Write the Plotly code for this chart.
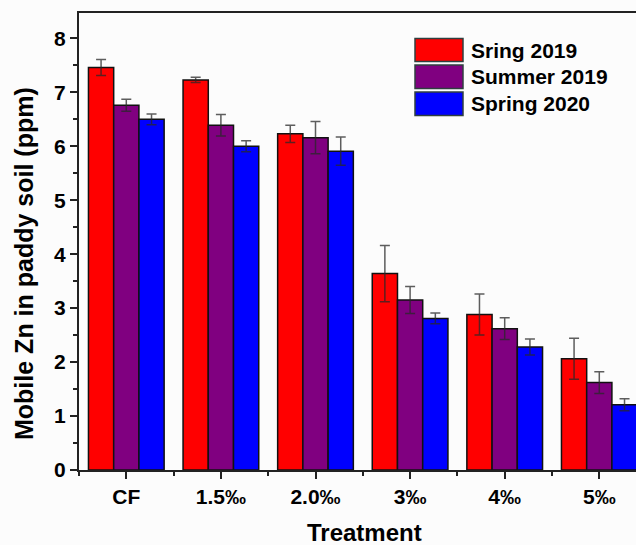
import plotly.graph_objects as go

# Treatment groups and mobile Zn readings (ppm) with standard errors
treatments = ["CF", "1.5‰", "2.0‰", "3‰", "4‰", "5‰"]
series_names = ["Sring 2019", "Summer 2019", "Spring 2020"]
sring_2019 = [7.46, 7.23, 6.23, 3.64, 2.88, 2.06]
sring_2019_err = [0.15, 0.05, 0.16, 0.52, 0.38, 0.38]
summer_2019 = [6.76, 6.39, 6.16, 3.15, 2.62, 1.62]
summer_2019_err = [0.11, 0.20, 0.30, 0.25, 0.20, 0.20]
spring_2020 = [6.50, 6.00, 5.91, 2.81, 2.28, 1.21]
spring_2020_err = [0.10, 0.10, 0.26, 0.10, 0.15, 0.11]

colors = ["#ff0000", "#800080", "#0000ff"]
values = [sring_2019, summer_2019, spring_2020]
errors = [sring_2019_err, summer_2019_err, spring_2020_err]

W, H = 636, 545
L, R, T, B = 79, 0, 13, 75
PW, PH = W - L - R, H - T - B
FONT = "Arial, Liberation Sans, sans-serif"


def px(x):
    return (x - L) / PW


def py(y):
    return (H - B - y) / PH


positions = list(range(len(treatments)))

fig = go.Figure()
for name, vals, errs, col in zip(series_names, values, errors, colors):
    fig.add_trace(go.Bar(
        x=positions, y=vals, name=name,
        marker=dict(color=col, line=dict(color="#111111", width=1.5)),
        error_y=dict(type="data", array=errs, color="rgba(40,40,40,0.75)",
                     thickness=1.5, width=5),
        showlegend=False,
    ))

# Legend drawn as framed swatches with labels
sw_x0, sw_x1 = 415, 463
rows = [(38.5, 61.5), (65, 88.5), (92, 115.5)]
for (y0, y1), name, col in zip(rows, series_names, colors):
    fig.add_shape(type="rect", xref="paper", yref="paper",
                  x0=px(sw_x0), x1=px(sw_x1), y0=py(y1), y1=py(y0),
                  fillcolor=col, line=dict(color="#2f3f3f", width=1.5))
    fig.add_annotation(xref="paper", yref="paper", x=px(469), y=py((y0 + y1) / 2),
                       text=name, showarrow=False, xanchor="left", yanchor="middle",
                       font=dict(family=FONT, size=21, color="black", weight="bold"))

# Axis titles
fig.add_annotation(xref="paper", yref="paper", x=px(364), y=py(532),
                   text="Treatment", showarrow=False, xanchor="center", yanchor="middle",
                   font=dict(family=FONT, size=24, color="black", weight="bold"))
fig.add_annotation(xref="paper", yref="paper", x=px(24), y=py(264),
                   text="Mobile Zn in paddy soil (ppm)", textangle=-90, showarrow=False,
                   xanchor="center", yanchor="middle",
                   font=dict(family=FONT, size=25, color="black", weight="bold"))

fig.update_layout(
    width=W, height=H,
    margin=dict(l=L, r=R, t=T, b=B, pad=0),
    paper_bgcolor="#fcfcfc", plot_bgcolor="#fcfcfc",
    barmode="group", bargap=0.2, bargroupgap=0,
    font=dict(family=FONT, color="black"),
)
fig.update_xaxes(
    range=[-0.5, -0.5 + PW / 94.6], tickvals=positions, ticktext=treatments,
    showgrid=False, zeroline=False,
    showline=True, linecolor="#222222", linewidth=2, mirror=True,
    ticks="outside", ticklen=7, tickwidth=1.5, tickcolor="#222222",
    minor=dict(tick0=-0.5, dtick=1, ticks="outside", ticklen=4, tickwidth=1.5,
               tickcolor="#222222"),
    tickfont=dict(family=FONT, size=21, color="black", weight="bold"),
    ticklabelstandoff=0,
)
fig.update_yaxes(
    range=[0, 8.47], tickvals=list(range(0, 9)),
    showgrid=False, zeroline=False,
    showline=True, linecolor="#222222", linewidth=2,
    ticks="outside", ticklen=7, tickwidth=1.5, tickcolor="#222222",
    minor=dict(tick0=0.5, dtick=1, ticks="outside", ticklen=4, tickwidth=1.5,
               tickcolor="#222222"),
    tickfont=dict(family=FONT, size=21, color="black", weight="bold"),
)

fig.write_html("out.html")
